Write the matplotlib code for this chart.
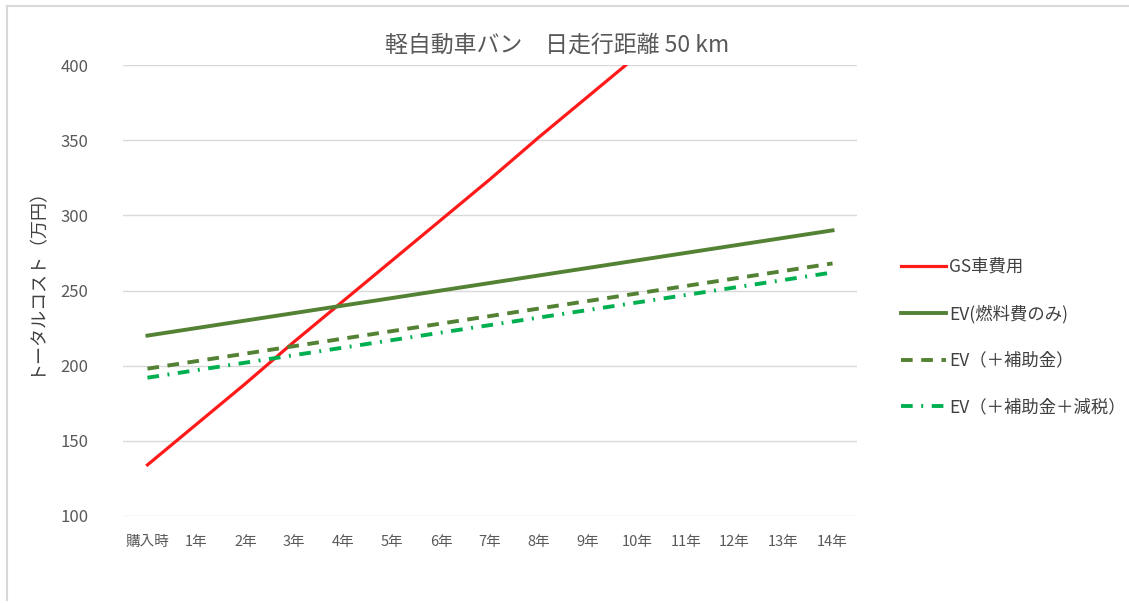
import numpy as np
import matplotlib
matplotlib.use('Agg')
from matplotlib import pyplot as plt
from matplotlib.lines import Line2D

plt.rcParams['font.family'] = ['Noto Sans CJK JP', 'DejaVu Sans']

# data
years = ['購入時', '1年', '2年', '3年', '4年', '5年', '6年', '7年',
         '8年', '9年', '10年', '11年', '12年', '13年', '14年']
gs_cost = [134, 161, 188, 216, 243, 270, 297, 324, 352, 379, 406, 433, 460, 488, 515]
ev_fuel = [220, 225, 230, 235, 240, 245, 250, 255, 260, 265, 270, 275, 280, 285, 290]
ev_subsidy = [198, 203, 208, 213, 218, 223, 228, 233, 238, 243, 248, 253, 258, 263, 268]
ev_subsidy_tax = [192, 197, 202, 207, 212, 217, 222, 227, 232, 237, 242, 247, 252, 257, 262]

fig = plt.figure(figsize=(11.29, 6.03), dpi=100)
ax = fig.add_axes([123/1129, 1-516/603, (857-123)/1129, (516-65)/603])

x = np.arange(len(years))
ax.plot(x, gs_cost, color='#ff1a1a', lw=2.3, label='GS車費用')
ax.plot(x, ev_fuel, color='#548235', lw=2.8, label='EV(燃料費のみ)')
ax.plot(x, ev_subsidy, color='#548235', lw=2.8, ls=(0, (3, 2.2)), label='EV（＋補助金）')
ax.plot(x, ev_subsidy_tax, color='#00b050', lw=2.8, ls=(0, (3, 2.2, 0.5, 2.2)),
        label='EV（＋補助金＋減税）')

ax.set_xlim(-0.5, len(years) - 0.5)
ax.set_ylim(100, 400)
ax.set_yticks(range(100, 401, 50))
ax.set_xticks(x)
ax.set_xticklabels(years, fontsize=10.5, color='#595959')
ax.tick_params(axis='y', labelsize=12, colors='#595959', length=0, pad=25)
ax.tick_params(axis='x', length=0, pad=14)
for s in ax.spines.values():
    s.set_visible(False)
ax.grid(axis='y', color='#d9d9d9', lw=1)
ax.set_axisbelow(True)

fig.text(35/1129, 1-277/603, 'トータルコスト（万円）', fontsize=13, color='#404040',
         rotation=90, ha='center', va='center')
fig.text(557/1129, 1-45/603, '軽自動車バン　日走行距離 50 km', fontsize=16.5,
         color='#595959', ha='center', va='center')

leg = ax.legend(loc='center left', bbox_to_anchor=(885/1129, 1-337/603),
                bbox_transform=fig.transFigure, frameon=False, fontsize=12.5,
                handlelength=2.6, handletextpad=0.2, labelspacing=1.65,
                labelcolor='#404040')

# chart frame
fig.add_artist(Line2D([7/1129, 1], [1-6/603, 1-6/603], color='#d9d9d9', lw=1.5))
fig.add_artist(Line2D([7/1129, 7/1129], [1-6/603, 1-600/603], color='#d9d9d9', lw=1.5))

fig.savefig('out.png', dpi=100)
